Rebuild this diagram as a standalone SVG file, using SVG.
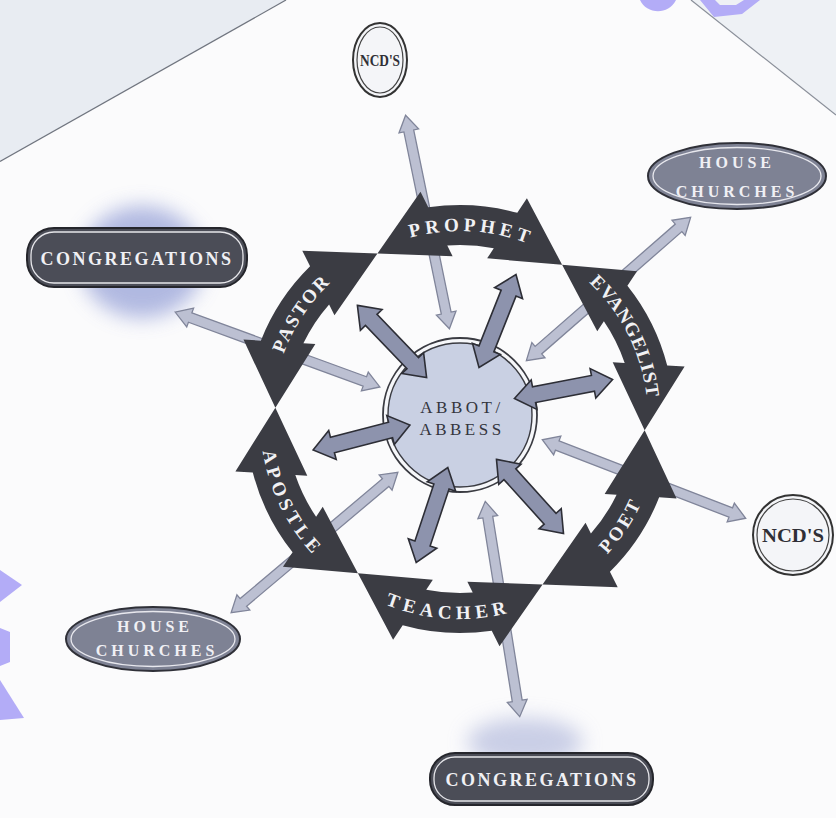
<svg xmlns="http://www.w3.org/2000/svg" width="836" height="818" viewBox="0 0 836 818">
<defs>
<style>
.ring{fill:#3b3c43;}
.rlabel{font-family:"Liberation Serif","DejaVu Serif",serif;font-weight:bold;font-size:19px;fill:#f1f1f4;}
.dark{fill:#8d93ad;stroke:#2d2e36;stroke-width:1.6;}
.light{fill:#bcc0d2;stroke:#80859a;stroke-width:1.3;}
.olbl{font-family:"Liberation Serif","DejaVu Serif",serif;font-weight:bold;fill:#f0f0f4;text-anchor:middle;}
.ncd{font-family:"Liberation Serif","DejaVu Serif",serif;font-weight:bold;fill:#2f2f36;text-anchor:middle;}
.purple{fill:#b3acf7;}
</style>
<filter id="blur" x="-50%" y="-50%" width="200%" height="200%"><feGaussianBlur stdDeviation="10"/></filter>
<path id="ringArrow" d="M-92.5,-160.2 L-53.3,-224.4 L-44.6,-209.3 A214,214 0 0 1 44.6,-209.3 L53.3,-224.4 L92.5,-160.2 L17.3,-162 L23.3,-172.4 A174,174 0 0 0 -23.3,-172.4 L-17.3,-162 Z"/>
<path id="arcTop" d="M-107.8,-154 A188,188 0 0 1 107.8,-154" fill="none"/>
<path id="arcBot" d="M-114.7,163.8 A200,200 0 0 0 114.7,163.8" fill="none"/>
<polygon id="darkArrow" points="-50,0 -30,-15 -30,-8 30,-8 30,-15 50,0 30,15 30,8 -30,8 -30,15"/>
<polygon id="lightArrow" points="-109,0 -93,-10 -93,-5 93,-5 93,-10 109,0 93,10 93,5 -93,5 -93,10"/>
</defs>

<rect width="836" height="818" fill="#fbfbfc"/>
<polygon points="0,0 286,0 0,161.5" fill="#e8ecf2"/>
<line x1="0" y1="161.5" x2="286" y2="0" stroke="#70757f" stroke-width="1.2"/>
<polygon points="691,0 836,0 836,115" fill="#eef1f5"/>
<line x1="691" y1="0" x2="836" y2="115" stroke="#8a8f99" stroke-width="1.2"/>
<path class="purple" d="M640,0 C646,14 668,16 676,0 Z"/>
<path class="purple" d="M700,0 L714,17 L742,14 L760,0 L744,0 L736,5 L720,5 L715,0 Z"/>
<path class="purple" d="M0,570 L22,585 L0,602 Z"/>
<path class="purple" d="M0,628 L10,632 L10,662 L0,666 Z"/>
<path class="purple" d="M0,680 L24,718 L0,720 Z"/>

<ellipse cx="142" cy="262" rx="62" ry="56" fill="#98a3d8" opacity="0.75" filter="url(#blur)"/>
<ellipse cx="525" cy="742" rx="58" ry="24" fill="#a9b1d8" opacity="0.6" filter="url(#blur)"/>

<g id="abbot-abbess">
<circle cx="460" cy="415" r="77" fill="#f6f7fa" stroke="#3a3b42" stroke-width="1.8"/>
<circle cx="460" cy="415" r="72" fill="#c9d0e3" stroke="#3a3b42" stroke-width="1.4"/>
<text x="462" y="413" font-family="Liberation Serif, DejaVu Serif, serif" font-size="17" letter-spacing="3.5" fill="#34353d" text-anchor="middle">ABBOT/</text>
<text x="462" y="435" font-family="Liberation Serif, DejaVu Serif, serif" font-size="17" letter-spacing="3.5" fill="#34353d" text-anchor="middle">ABBESS</text>
</g>

<g id="connectors">
<g id="outer-links">
<use href="#lightArrow" class="light" transform="translate(427.5,222) rotate(78.4)"/>
<use href="#lightArrow" class="light" transform="translate(608.5,289) rotate(138.9)"/>
<use href="#lightArrow" class="light" transform="translate(644,479) rotate(-158.9)"/>
<use href="#lightArrow" class="light" transform="translate(502.5,609) rotate(-99.1)"/>
<use href="#lightArrow" class="light" transform="translate(314.5,542.5) rotate(-40.1)"/>
<use href="#lightArrow" class="light" transform="translate(277.5,349.5) rotate(20.1)"/>
</g>
<g id="ring-links">
<use href="#darkArrow" class="dark" transform="translate(392,341.5) rotate(46.2)"/>
<use href="#darkArrow" class="dark" transform="translate(497.5,321) rotate(111.7)"/>
<use href="#darkArrow" class="dark" transform="translate(563.5,389) rotate(-10.95)"/>
<use href="#darkArrow" class="dark" transform="translate(361.5,437.5) rotate(-14.45)"/>
<use href="#darkArrow" class="dark" transform="translate(432,515) rotate(108.4)"/>
<use href="#darkArrow" class="dark" transform="translate(530,496.5) rotate(47.9)"/>
</g>
</g>

<g id="prophet" transform="translate(460,419) rotate(3.5)">
<use href="#ringArrow" class="ring"/>
<text class="rlabel" letter-spacing="4.5"><textPath href="#arcTop" startOffset="50%" text-anchor="middle">PROPHET</textPath></text>
</g>
<g id="evangelist" transform="translate(460,419) rotate(63.5)">
<use href="#ringArrow" class="ring"/>
<text class="rlabel" font-size="18" letter-spacing="1"><textPath href="#arcTop" startOffset="50%" text-anchor="middle">EVANGELIST</textPath></text>
</g>
<g id="pastor" transform="translate(460,419) rotate(-56.5)">
<use href="#ringArrow" class="ring"/>
<text class="rlabel" letter-spacing="2"><textPath href="#arcTop" startOffset="50%" text-anchor="middle">PASTOR</textPath></text>
</g>
<g id="poet" transform="translate(460,419)">
<use href="#ringArrow" class="ring" transform="rotate(123.5)"/>
<text class="rlabel" letter-spacing="3" transform="rotate(-56.5)"><textPath href="#arcBot" startOffset="50%" text-anchor="middle">POET</textPath></text>
</g>
<g id="teacher" transform="translate(460,419)">
<use href="#ringArrow" class="ring" transform="rotate(183.5)"/>
<text class="rlabel" letter-spacing="5" transform="rotate(3.5)"><textPath href="#arcBot" startOffset="50%" text-anchor="middle">TEACHER</textPath></text>
</g>
<g id="apostle" transform="translate(460,419)">
<use href="#ringArrow" class="ring" transform="rotate(243.5)"/>
<text class="rlabel" letter-spacing="4.5" transform="rotate(63.5)"><textPath href="#arcBot" startOffset="50%" text-anchor="middle">APOSTLE</textPath></text>
</g>

<g id="ncds-top">
<ellipse cx="380" cy="60" rx="27" ry="37" fill="#f4f5f8" stroke="#333" stroke-width="2"/>
<ellipse cx="380" cy="60" rx="23" ry="33" fill="none" stroke="#444" stroke-width="1.2"/>
<text x="380" y="66" class="ncd" font-size="16" textLength="40" lengthAdjust="spacingAndGlyphs">NCD'S</text>
</g>
<g id="ncds-right">
<circle cx="793" cy="535" r="40" fill="#f4f5f8" stroke="#333" stroke-width="2"/>
<circle cx="793" cy="535" r="36" fill="none" stroke="#444" stroke-width="1.2"/>
<text x="793" y="542" class="ncd" font-size="19" textLength="62" lengthAdjust="spacingAndGlyphs">NCD'S</text>
</g>
<g id="house-churches-top">
<ellipse cx="737" cy="176" rx="89" ry="33" fill="#7e8294" stroke="#2f3038" stroke-width="2"/>
<ellipse cx="737" cy="176" rx="84" ry="28.5" fill="none" stroke="#e8e8ee" stroke-width="1.3"/>
<text x="737" y="168" class="olbl" font-size="16" letter-spacing="4">HOUSE</text>
<text x="737" y="197" class="olbl" font-size="16" letter-spacing="4">CHURCHES</text>
</g>
<g id="house-churches-bottom">
<ellipse cx="153" cy="639" rx="87" ry="32" fill="#7e8294" stroke="#2f3038" stroke-width="2"/>
<ellipse cx="153" cy="639" rx="82" ry="27.5" fill="none" stroke="#e8e8ee" stroke-width="1.3"/>
<text x="155" y="632" class="olbl" font-size="16" letter-spacing="4">HOUSE</text>
<text x="157" y="656" class="olbl" font-size="16" letter-spacing="4">CHURCHES</text>
</g>
<g id="congregations-top">
<rect x="27" y="228" width="220" height="59" rx="27" fill="#4b4d57" stroke="#25262c" stroke-width="2"/>
<rect x="31" y="232" width="212" height="51" rx="23" fill="none" stroke="#e6e6ea" stroke-width="1.3"/>
<text x="137" y="265" class="olbl" font-size="18" letter-spacing="2.5">CONGREGATIONS</text>
</g>
<g id="congregations-bottom">
<rect x="430" y="753" width="223" height="52" rx="25" fill="#4b4d57" stroke="#25262c" stroke-width="2"/>
<rect x="434" y="757" width="215" height="44" rx="21" fill="none" stroke="#e6e6ea" stroke-width="1.3"/>
<text x="542" y="786" class="olbl" font-size="18" letter-spacing="2.5">CONGREGATIONS</text>
</g>
</svg>
